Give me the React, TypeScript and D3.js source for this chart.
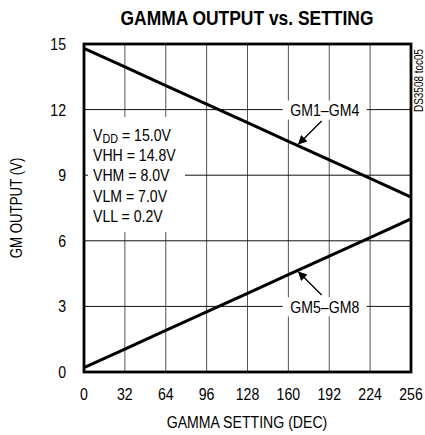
import * as d3 from "d3";
import type { ReactNode } from "react";

const settings = [0, 32, 64, 96, 128, 160, 192, 224, 256];
const gm1to4 = [14.8, 13.95, 13.1, 12.25, 11.4, 10.55, 9.7, 8.85, 8.0];
const gm5to8 = [0.2, 1.05, 1.9, 2.75, 3.6, 4.45, 5.3, 6.15, 7.0];
const xTicks = [0, 32, 64, 96, 128, 160, 192, 224, 256];
const yTicks = [0, 3, 6, 9, 12, 15];
const conditions = [
  { main: "V", sub: "DD", rest: " = 15.0V" },
  { main: "VHH = 14.8V", sub: "", rest: "" },
  { main: "VHM = 8.0V", sub: "", rest: "" },
  { main: "VLM = 7.0V", sub: "", rest: "" },
  { main: "VLL = 0.2V", sub: "", rest: "" },
];
const seriesLabels = [
  { text: "GM1–GM4", at: 188.5, value: 12, pointAt: 168, dir: -1 },
  { text: "GM5–GM8", at: 188.5, value: 3, pointAt: 168, dir: 1 },
];

// no condensed face installed, so squeeze Liberation Sans horizontally
const FONT = "'Liberation Sans', Arial, sans-serif";
const SQ = 0.83;

function T({ x, y, rotate = 0, anchor = "start", size = 17, bold = false, children }: {
  x: number; y: number; rotate?: number; anchor?: string; size?: number; bold?: boolean; children: ReactNode;
}) {
  return (
    <text
      transform={`translate(${x},${y}) rotate(${rotate}) scale(${SQ},1)`}
      textAnchor={anchor}
      fontSize={size}
      fontWeight={bold ? "bold" : "normal"}
    >
      {children}
    </text>
  );
}

export default function App() {
  const width = 425;
  const height = 435;
  const x = d3.scaleLinear().domain([0, 256]).range([84, 411]);
  const y = d3.scaleLinear().domain([0, 15]).range([372, 44]);
  const path = (vals: number[]) =>
    d3.line<number>().x((_, i) => x(settings[i])).y((d) => y(d))(vals) || "";
  const series = [gm1to4, gm5to8];

  return (
    <svg
      width={width}
      height={height}
      style={{ position: "absolute", left: 0, top: 0, background: "#fff" }}
      fontFamily={FONT}
    >
      <defs>
        <marker id="arr" viewBox="0 0 10 10" refX="9" refY="5" markerWidth="11" markerHeight="9" orient="auto" markerUnits="userSpaceOnUse">
          <path d="M0,0 L10,5 L0,10 Z" fill="#000" />
        </marker>
      </defs>

      <T x={247} y={25} anchor="middle" size={21} bold>
        GAMMA OUTPUT vs. SETTING
      </T>

      {/* grid */}
      {xTicks.slice(1, -1).map((t) => (
        <line key={"gx" + t} x1={x(t)} x2={x(t)} y1={y(15)} y2={y(0)} stroke="#555" strokeWidth={1} />
      ))}
      {yTicks.slice(1, -1).map((t) => (
        <line key={"gy" + t} x1={x(0)} x2={x(256)} y1={y(t)} y2={y(t)} stroke="#111" strokeWidth={1} />
      ))}

      {/* knockout boxes behind the text */}
      <rect x={88} y={117} width={97} height={115} fill="#fff" />
      {seriesLabels.map((s) => (
        <rect key={"b" + s.text} x={x(s.at) - 42} y={y(s.value) - 9} width={84} height={19} fill="#fff" />
      ))}

      {/* series */}
      {series.map((vals, i) => (
        <path key={"s" + i} d={path(vals)} fill="none" stroke="#000" strokeWidth={3} />
      ))}

      {/* frame */}
      <rect x={x(0)} y={y(15)} width={x(256) - x(0)} height={y(0) - y(15)} fill="none" stroke="#000" strokeWidth={2.8} />

      {/* conditions */}
      {conditions.map((c, i) => (
        <T key={"c" + i} x={93} y={140.5 + i * 20.4}>
          {c.main}
          {c.sub && (
            <tspan fontSize={13} dy={2}>
              {c.sub}
            </tspan>
          )}
          {c.rest && <tspan dy={c.sub ? -2 : 0}>{c.rest}</tspan>}
        </T>
      ))}

      {/* series labels and arrows */}
      {seriesLabels.map((s, i) => {
        const interp = d3.scaleLinear().domain(settings).range(series[i]);
        const tipX = x(s.pointAt);
        const tipY = y(interp(s.pointAt)) + s.dir * 2;
        return (
          <g key={"l" + s.text}>
            <T x={x(s.at)} y={y(s.value) + 6.5} anchor="middle">
              {s.text}
            </T>
            <line
              x1={tipX + 23}
              y1={tipY + s.dir * 23}
              x2={tipX}
              y2={tipY}
              stroke="#000"
              strokeWidth={1.4}
              markerEnd="url(#arr)"
            />
          </g>
        );
      })}

      {/* ticks */}
      {yTicks.map((t) => (
        <T key={"yt" + t} x={66} y={y(t) + 6} anchor="end">
          {t}
        </T>
      ))}
      {xTicks.map((t) => (
        <T key={"xt" + t} x={x(t)} y={400} anchor="middle">
          {t}
        </T>
      ))}

      <T x={247} y={428} anchor="middle">
        GAMMA SETTING (DEC)
      </T>
      <T x={22} y={208} rotate={-90} anchor="middle" size={16}>
        GM OUTPUT (V)
      </T>
      <T x={423} y={112} rotate={-90} size={12}>
        DS3508 toc05
      </T>
    </svg>
  );
}
